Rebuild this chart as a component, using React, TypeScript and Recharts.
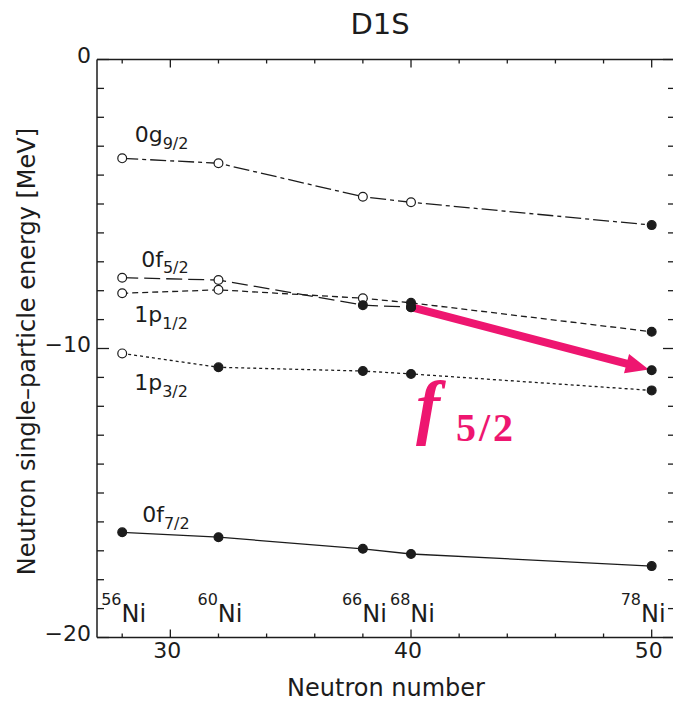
import { LineChart, Line, XAxis, YAxis, ReferenceDot, ReferenceLine } from "recharts";

// Neutron single-particle levels in the Ni isotopes (D1S interaction),
// with the f5/2 drop from 68Ni to 78Ni highlighted by an arrow.

const INK = "#1c1c1c";
const ACCENT = "#ee1670";
const SANS = "'DejaVu Sans', sans-serif";
const SERIF = "'Liberation Serif', 'Times New Roman', serif";

const neutrons = [28, 32, 38, 40, 50];
const massNumbers = ["56", "60", "66", "68", "78"];

// single-particle energies [MeV]
const g92 = [-3.42, -3.59, -4.75, -4.94, -5.73];
const f52 = [-7.55, -7.63, -8.5, -8.57, -10.75];
const p12 = [-8.09, -7.97, -8.26, -8.42, -9.42];
const p32 = [-10.17, -10.65, -10.78, -10.88, -11.45];
const f72 = [-16.36, -16.53, -16.93, -17.11, -17.53];

// occupied levels get a filled marker, empty ones an open circle
const g92Occ = [false, false, false, false, true];
const f52Occ = [false, false, true, true, true];
const p12Occ = [false, false, false, true, true];
const p32Occ = [false, true, true, true, true];
const f72Occ = [true, true, true, true, true];

const xTicks = [28, 30, 32, 34, 36, 38, 40, 42, 44, 46, 48, 50];
const yTicks = [
  -20, -19, -18, -17, -16, -15, -14, -13, -12, -11, -10, -9, -8, -7, -6, -5, -4, -3, -2, -1, 0,
];

type Pt = { n: number; e: number; occ: boolean };

const toPoints = (vals: number[], occ: boolean[]): Pt[] =>
  neutrons.map((n, i) => ({ n, e: vals[i], occ: occ[i] }));

const g92Pts = toPoints(g92, g92Occ);
const f52Pts = toPoints(f52, f52Occ);
const p12Pts = toPoints(p12, p12Occ);
const p32Pts = toPoints(p32, p32Occ);
const f72Pts = toPoints(f72, f72Occ);

const LevelDot = (props: any) => {
  const { cx, cy, payload, index } = props;
  if (cx == null || cy == null) return <g key={`d-${index}`} />;
  return (
    <circle
      key={`d-${index}`}
      cx={cx}
      cy={cy}
      r={4.4}
      fill={payload.occ ? INK : "#fff"}
      stroke={INK}
      strokeWidth={1.2}
    />
  );
};

const fmt = (v: number) => (v < 0 ? `\u2212${-v}` : `${v}`);

const BottomTick = ({ x, y, payload }: any) => {
  const major = payload.value % 10 === 0;
  return (
    <g>
      <line x1={x} y1={y} x2={x} y2={y - (major ? 8 : 4)} stroke={INK} strokeWidth={1.3} />
      {major && (
        <text x={x - 3} y={y + 20.5} textAnchor="middle" fontFamily={SANS} fontSize={22} fill={INK}>
          {payload.value}
        </text>
      )}
    </g>
  );
};

const TopTick = ({ x, y, payload }: any) => {
  const major = payload.value % 10 === 0;
  return <line x1={x} y1={y} x2={x} y2={y + (major ? 8 : 4)} stroke={INK} strokeWidth={1.3} />;
};

const LeftTick = ({ x, y, payload }: any) => {
  const major = payload.value % 10 === 0;
  return (
    <g>
      <line x1={x} y1={y} x2={x + (major ? 12 : 7)} y2={y} stroke={INK} strokeWidth={1.3} />
      {major && (
        <text x={x - 6} y={y + 3} textAnchor="end" fontFamily={SANS} fontSize={22} fill={INK}>
          {fmt(payload.value)}
        </text>
      )}
    </g>
  );
};

const RightTick = ({ x, y, payload }: any) => {
  const major = payload.value % 10 === 0;
  return <line x1={x} y1={y} x2={x - (major ? 11 : 6)} y2={y} stroke={INK} strokeWidth={1.3} />;
};

const OrbitalLabel = ({ cx, cy, dx, dy, name, sub }: any) => (
  <text x={cx + dx} y={cy + dy} fontFamily={SANS} fontSize={22} fill={INK}>
    {name}
    <tspan fontSize={16} dy={6.5}>
      {sub}
    </tspan>
  </text>
);

const NucleusLabel = ({ cx, cy, mass, shift }: any) => (
  <text x={cx - 21 + shift} y={cy - 33} fontFamily={SANS} fill={INK}>
    <tspan fontSize={16}>{mass}</tspan>
    <tspan fontSize={24} dy={17}>
      Ni
    </tspan>
  </text>
);

// thick arrow with a triangular head; the tip stops at the edge of the end marker
const Arrow = (props: any) => {
  const { x1, y1, x2, y2 } = props;
  if ([x1, y1, x2, y2].some((v) => v == null)) return <g />;
  const dx = x2 - x1;
  const dy = y2 - y1;
  const len = Math.hypot(dx, dy);
  const ux = dx / len;
  const uy = dy / len;
  const nx = -uy;
  const ny = ux;
  const tx = x2 - ux * 3;
  const ty = y2 - uy * 3;
  const bx = tx - ux * 23;
  const by = ty - uy * 23;
  const shaft = 4;
  const head = 10;
  const pts = [
    [x1 + nx * shaft, y1 + ny * shaft],
    [bx + nx * shaft, by + ny * shaft],
    [bx + nx * head, by + ny * head],
    [tx, ty],
    [bx - nx * head, by - ny * head],
    [bx - nx * shaft, by - ny * shaft],
    [x1 - nx * shaft, y1 - ny * shaft],
  ];
  return <polygon points={pts.map((p) => p.join(",")).join(" ")} fill={ACCENT} />;
};

const lineProps = {
  dataKey: "e",
  xAxisId: "b",
  yAxisId: "l",
  stroke: INK,
  strokeWidth: 1.3,
  dot: LevelDot,
  activeDot: false,
  isAnimationActive: false,
} as const;

const frame = { stroke: INK, strokeWidth: 1.5 };
const xDomain: [number, number] = [26.953, 50.927];
const yDomain: [number, number] = [-20, 0];

export default function App() {
  return (
    <div
      style={{
        position: "absolute",
        left: 0,
        top: 0,
        width: 673,
        height: 701,
        background: "#fff",
        overflow: "hidden",
      }}
    >
      {/* plot box: x 97..674 (right edge falls just outside the page), y 59.5..637.5 */}
      <LineChart width={675} height={701} margin={{ top: 49.5, right: 0, bottom: 33.5, left: 37 }}>
        <XAxis
          xAxisId="b"
          dataKey="n"
          type="number"
          domain={xDomain}
          allowDataOverflow
          ticks={xTicks}
          interval={0}
          height={30}
          tickSize={0}
          tickMargin={0}
          tickLine={false}
          tick={BottomTick}
          axisLine={frame}
        />
        <XAxis
          xAxisId="t"
          orientation="top"
          dataKey="n"
          type="number"
          domain={xDomain}
          allowDataOverflow
          ticks={xTicks}
          interval={0}
          height={10}
          tickSize={0}
          tickMargin={0}
          tickLine={false}
          tick={TopTick}
          axisLine={frame}
        />
        <YAxis
          yAxisId="l"
          type="number"
          domain={yDomain}
          allowDataOverflow
          ticks={yTicks}
          interval={0}
          width={60}
          tickSize={0}
          tickMargin={0}
          tickLine={false}
          tick={LeftTick}
          axisLine={frame}
        />
        <YAxis
          yAxisId="r"
          orientation="right"
          type="number"
          domain={yDomain}
          allowDataOverflow
          ticks={yTicks}
          interval={0}
          width={1}
          tickSize={0}
          tickMargin={0}
          tickLine={false}
          tick={RightTick}
          axisLine={frame}
        />

        <ReferenceLine
          xAxisId="b"
          yAxisId="l"
          segment={[
            { x: neutrons[3], y: f52[3] },
            { x: neutrons[4], y: f52[4] },
          ]}
          shape={Arrow}
        />

        <Line {...lineProps} data={f72Pts} />
        <Line {...lineProps} data={p32Pts} strokeDasharray="3 3" />
        <Line {...lineProps} data={p12Pts} strokeDasharray="6 4" />
        <Line {...lineProps} data={f52Pts.slice(0, 4)} strokeDasharray="16 6" />
        <Line {...lineProps} data={g92Pts} strokeDasharray="16 4 4 4" />
        <Line {...lineProps} data={f52Pts.slice(3)} stroke="none" />

        <ReferenceDot
          xAxisId="b"
          yAxisId="l"
          x={neutrons[0]}
          y={g92[0]}
          r={0}
          shape={(p: any) => <OrbitalLabel cx={p.cx} cy={p.cy} dx={12.5} dy={-16} name="0g" sub="9/2" />}
        />
        <ReferenceDot
          xAxisId="b"
          yAxisId="l"
          x={neutrons[0]}
          y={f52[0]}
          r={0}
          shape={(p: any) => <OrbitalLabel cx={p.cx} cy={p.cy} dx={19} dy={-11} name="0f" sub="5/2" />}
        />
        <ReferenceDot
          xAxisId="b"
          yAxisId="l"
          x={neutrons[0]}
          y={p12[0]}
          r={0}
          shape={(p: any) => <OrbitalLabel cx={p.cx} cy={p.cy} dx={12} dy={29} name="1p" sub="1/2" />}
        />
        <ReferenceDot
          xAxisId="b"
          yAxisId="l"
          x={neutrons[0]}
          y={p32[0]}
          r={0}
          shape={(p: any) => <OrbitalLabel cx={p.cx} cy={p.cy} dx={12} dy={37} name="1p" sub="3/2" />}
        />
        <ReferenceDot
          xAxisId="b"
          yAxisId="l"
          x={neutrons[0]}
          y={f72[0]}
          r={0}
          shape={(p: any) => <OrbitalLabel cx={p.cx} cy={p.cy} dx={20} dy={-10} name="0f" sub="7/2" />}
        />

        {neutrons.map((n, i) => (
          <ReferenceDot
            key={n}
            xAxisId="b"
            yAxisId="l"
            x={n}
            y={-20}
            r={0}
            shape={(p: any) => (
              <NucleusLabel
                cx={p.cx}
                cy={p.cy}
                mass={massNumbers[i]}
                shift={i === neutrons.length - 1 ? -10 : 0}
              />
            )}
          />
        ))}
      </LineChart>

      <svg
        width={673}
        height={701}
        style={{ position: "absolute", left: 0, top: 0, pointerEvents: "none" }}
      >
        <text x={380} y={34} textAnchor="middle" fontFamily={SANS} fontSize={29} fill={INK}>
          D1S
        </text>
        <text x={386} y={696} textAnchor="middle" fontFamily={SANS} fontSize={24} fill={INK}>
          Neutron number
        </text>
        <text
          transform="translate(35 351.5) rotate(-90)"
          textAnchor="middle"
          fontFamily={SANS}
          fontSize={24}
          fill={INK}
        >
          Neutron single–particle energy [MeV]
        </text>
        <text x={416} y={431} fontFamily={SERIF} fontWeight="bold" fontStyle="italic" fontSize={72} fill={ACCENT}>
          f
        </text>
        <text
          x={456}
          y={441}
          fontFamily={SERIF}
          fontWeight="bold"
          fontSize={40}
          letterSpacing={3}
          fill={ACCENT}
        >
          5/2
        </text>
      </svg>
    </div>
  );
}
